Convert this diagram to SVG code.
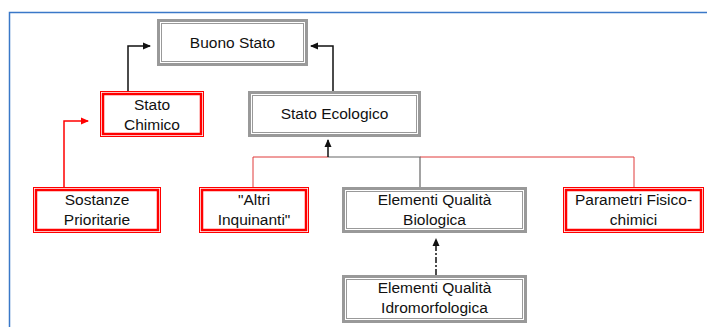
<svg xmlns="http://www.w3.org/2000/svg" width="707" height="327" viewBox="0 0 707 327">
<style>
.t{font-family:"Liberation Sans",Arial,sans-serif;font-size:15.5px;fill:#111;text-anchor:middle}
.go{fill:none;stroke:#999;stroke-width:3}
.gi{fill:#fff;stroke:#999;stroke-width:1}
.ro{fill:none;stroke:#f00;stroke-width:1}
.ri{fill:#fff;stroke:#f00;stroke-width:2.5}
.cb{fill:none;stroke:#111;stroke-width:1.5}
.cr{fill:none;stroke:#e03a3a;stroke-width:1}
.cg{fill:none;stroke:#666;stroke-width:1.2}
</style>
<defs>
<marker id="ab" markerWidth="8" markerHeight="8" refX="7" refY="4" orient="auto" markerUnits="userSpaceOnUse"><path d="M0,0.5 L8,4 L0,7.5 Z" fill="#111"/></marker>
<marker id="ar" markerWidth="8" markerHeight="8" refX="7" refY="4" orient="auto" markerUnits="userSpaceOnUse"><path d="M0,0.5 L8,4 L0,7.5 Z" fill="#f00"/></marker>
</defs>
<rect width="707" height="327" fill="#fff"/>
<path d="M9.5,327 V12.5 H707" fill="none" stroke="#3a78c8" stroke-width="1.5"/>

<g id="connectors">
<path class="cb" d="M128,91 V46 H150" marker-end="url(#ab)"/>
<path class="cb" d="M333,91 V46 H311" marker-end="url(#ab)"/>
<path d="M64,187 V121 H88" fill="none" stroke="#f00" stroke-width="1.5" marker-end="url(#ar)"/>
<path class="cr" d="M253,187 V157 H328"/>
<path class="cr" d="M420,157 H634 V187"/>
<path class="cg" d="M328,157 H420 V187"/>
<path class="cb" d="M328,157 V140" stroke-width="2" marker-end="url(#ab)"/>
<path class="cb" d="M436,275 V239" stroke-width="2" stroke-dasharray="6,2,2,2" marker-end="url(#ab)"/>
</g>

<g id="buono-stato">
<rect class="go" x="158.5" y="20.5" width="148" height="44"/>
<rect class="gi" x="161.5" y="23.5" width="142" height="38"/>
<text class="t" x="232.5" y="47.5">Buono Stato</text>
</g>
<g id="stato-chimico">
<rect class="ro" x="100.5" y="91.5" width="103" height="45"/>
<rect class="ri" x="103" y="94" width="98" height="40"/>
<text class="t" x="152" y="110">Stato</text>
<text class="t" x="152" y="130">Chimico</text>
</g>
<g id="stato-ecologico">
<rect class="go" x="249.5" y="92.5" width="170" height="43"/>
<rect class="gi" x="252.5" y="95.5" width="164" height="37"/>
<text class="t" x="334.5" y="119">Stato Ecologico</text>
</g>
<g id="sostanze-prioritarie">
<rect class="ro" x="33.5" y="187.5" width="127" height="45"/>
<rect class="ri" x="36" y="190" width="122" height="40"/>
<text class="t" x="97" y="205">Sostanze</text>
<text class="t" x="97" y="225">Prioritarie</text>
</g>
<g id="altri-inquinanti">
<rect class="ro" x="199.5" y="187.5" width="109" height="45"/>
<rect class="ri" x="202" y="190" width="104" height="40"/>
<text class="t" x="254" y="205">"Altri</text>
<text class="t" x="254" y="225">Inquinanti"</text>
</g>
<g id="elementi-biologica">
<rect class="go" x="343.5" y="188.5" width="182" height="43"/>
<rect class="gi" x="346.5" y="191.5" width="176" height="37"/>
<text class="t" x="434.5" y="205">Elementi Qualità</text>
<text class="t" x="434.5" y="225">Biologica</text>
</g>
<g id="parametri-fisico-chimici">
<rect class="ro" x="563.5" y="187.5" width="140" height="45"/>
<rect class="ri" x="566" y="190" width="135" height="40"/>
<text class="t" x="633.5" y="205">Parametri Fisico-</text>
<text class="t" x="633.5" y="225">chimici</text>
</g>
<g id="elementi-idromorfologica">
<rect class="go" x="343.5" y="276.5" width="182" height="45"/>
<rect class="gi" x="346.5" y="279.5" width="176" height="39"/>
<text class="t" x="434.5" y="293">Elementi Qualità</text>
<text class="t" x="434.5" y="313">Idromorfologica</text>
</g>
</svg>
